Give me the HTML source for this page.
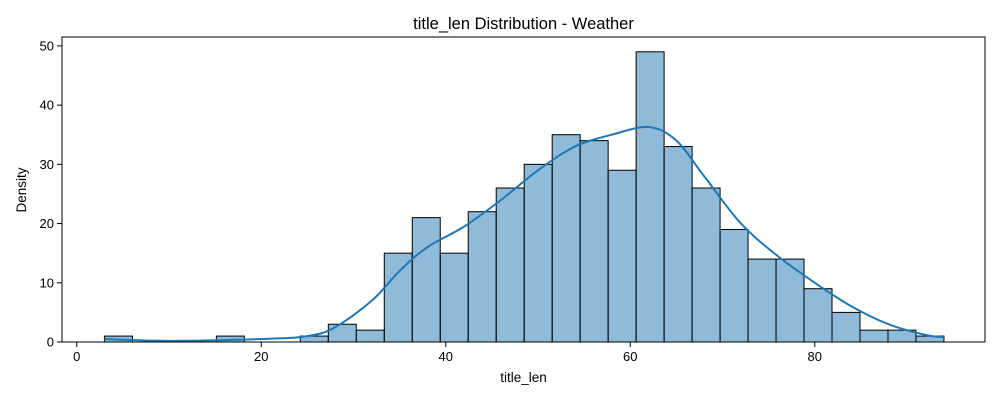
<!DOCTYPE html>
<html><head><meta charset="utf-8"><style>
body{margin:0;background:#fff;font-family:"Liberation Sans","DejaVu Sans",sans-serif;}
svg text{font-family:"Liberation Sans","DejaVu Sans",sans-serif;}
</style></head><body>
<svg id="chart" width="1000" height="400">
<rect x="0" y="0" width="1000" height="400" fill="#fff"/>
<g id="bars"></g>
<path id="kde" fill="none" stroke="#1f77b4" stroke-width="2"/>
<rect x="62" y="37" width="923" height="305" fill="none" stroke="#000" stroke-width="1"/>
<g id="xticks"></g>
<g id="yticks"></g>
<text x="523.5" y="29" font-size="16.5" text-anchor="middle">title_len Distribution - Weather</text>
<text x="523.5" y="382" font-size="13.5" text-anchor="middle">title_len</text>
<text x="26" y="190" font-size="13.5" text-anchor="middle" transform="rotate(-90 26 190)">Density</text>
</svg>
<script>
const binStart = 3;
const binEnd = 94;
const counts = [1,0,0,0,1,0,0,1,3,2,15,21,15,22,26,30,35,34,29,49,33,26,19,14,14,9,5,2,2,1];
const kdeX = [3,10,20,25,28,32,35,38,42,46,50,54,58,62,65,68,72,76,80,84,88,92,94];
const kdeY = [0.5,0.2,0.5,1,2.5,7,12,16,19.5,24,29,33,35,36.3,34,28,20,14.5,10,6,3,1.2,0.8];
const xTicks = [0,20,40,60,80];
const yTicks = [0,10,20,30,40,50];
const NS="http://www.w3.org/2000/svg";
const X0=62,X1=985,Y0=342,Y1=37;
const xMin=-1.6,xMax=98.45,yMin=0,yMax=51.5;
function sx(v){return X0+(v-xMin)/(xMax-xMin)*(X1-X0);}
function sy(v){return Y0-(v-yMin)/(yMax-yMin)*(Y0-Y1);}
const bars=document.getElementById('bars');
const w=(binEnd-binStart)/counts.length;
counts.forEach((c,i)=>{
  if(c<=0)return;
  const r=document.createElementNS(NS,'rect');
  const a=sx(binStart+i*w),b=sx(binStart+(i+1)*w);
  r.setAttribute('x',a);r.setAttribute('width',b-a);
  r.setAttribute('y',sy(c));r.setAttribute('height',sy(0)-sy(c));
  r.setAttribute('fill','rgba(31,119,180,0.5)');r.setAttribute('stroke','#000');r.setAttribute('stroke-width','1');
  
  
  bars.appendChild(r);
});
// smooth curve via Catmull-Rom
const pts=kdeX.map((x,i)=>[sx(x),sy(kdeY[i])]);
let d='M'+pts[0][0]+','+pts[0][1];
for(let i=0;i<pts.length-1;i++){
  const p0=pts[Math.max(0,i-1)],p1=pts[i],p2=pts[i+1],p3=pts[Math.min(pts.length-1,i+2)];
  const c1=[p1[0]+(p2[0]-p0[0])/6,p1[1]+(p2[1]-p0[1])/6];
  const c2=[p2[0]-(p3[0]-p1[0])/6,p2[1]-(p3[1]-p1[1])/6];
  d+=` C${c1[0]},${c1[1]} ${c2[0]},${c2[1]} ${p2[0]},${p2[1]}`;
}
document.getElementById('kde').setAttribute('d',d);
const xt=document.getElementById('xticks');
xTicks.forEach(v=>{
  const l=document.createElementNS(NS,'line');
  l.setAttribute('x1',sx(v));l.setAttribute('x2',sx(v));l.setAttribute('y1',Y0);l.setAttribute('y2',Y0+5);l.setAttribute('stroke','#000');
  
  
  xt.appendChild(l);
  const t=document.createElementNS(NS,'text');
  t.setAttribute('x',sx(v));t.setAttribute('y',Y0+19);t.setAttribute('font-size','13');t.setAttribute('text-anchor','middle');
  t.textContent=v;
  
  
  xt.appendChild(t);
});
const yt=document.getElementById('yticks');
yTicks.forEach(v=>{
  const l=document.createElementNS(NS,'line');
  l.setAttribute('x1',X0-5);l.setAttribute('x2',X0);l.setAttribute('y1',sy(v));l.setAttribute('y2',sy(v));l.setAttribute('stroke','#000');
  
  
  yt.appendChild(l);
  const t=document.createElementNS(NS,'text');
  t.setAttribute('x',X0-8);t.setAttribute('y',sy(v)+4.5);t.setAttribute('font-size','13');t.setAttribute('text-anchor','end');
  t.textContent=v;
  
  
  yt.appendChild(t);
});
</script>
</body></html>
